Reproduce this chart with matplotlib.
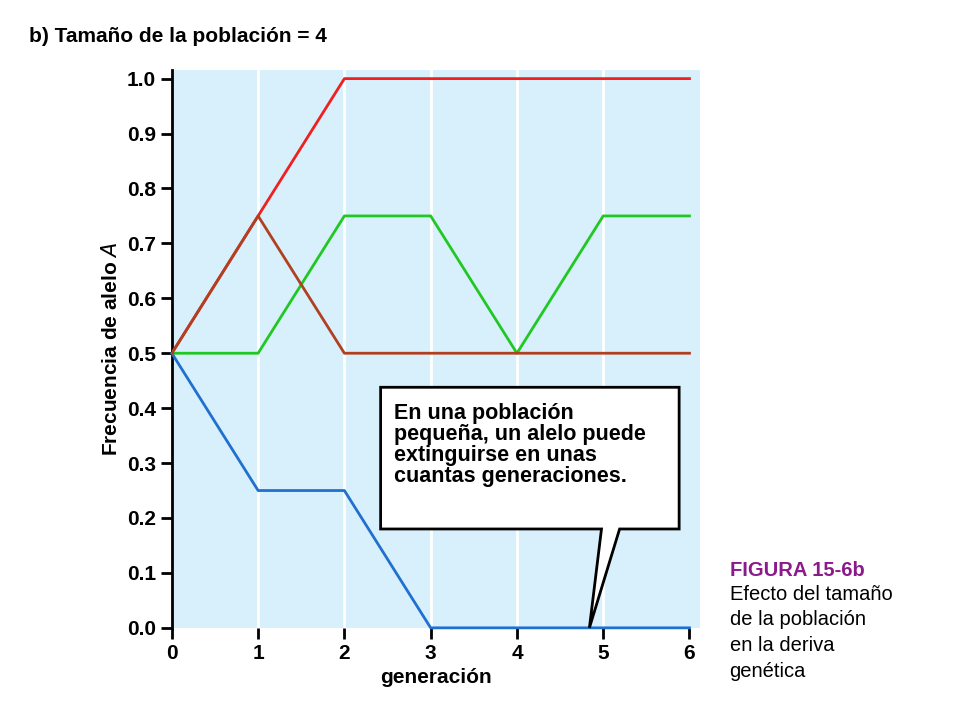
import matplotlib
matplotlib.use("Agg")
import matplotlib.pyplot as plt
from matplotlib.patches import Polygon

gen = [0, 1, 2, 3, 4, 5, 6]
red = [0.5, 0.75, 1.0, 1.0, 1.0, 1.0, 1.0]
brown = [0.5, 0.75, 0.5, 0.5, 0.5, 0.5, 0.5]
green = [0.5, 0.5, 0.75, 0.75, 0.5, 0.75, 0.75]
blue = [0.5, 0.25, 0.25, 0.0, 0.0, 0.0, 0.0]
yticks = [0.0, 0.1, 0.2, 0.3, 0.4, 0.5, 0.6, 0.7, 0.8, 0.9, 1.0]

plt.rcParams['font.family'] = ['Liberation Sans', 'DejaVu Sans']
fig = plt.figure(figsize=(9.6, 7.2), dpi=100)
ax = fig.add_axes([0.179, 0.128, 0.55, 0.775])
ax.set_facecolor('#d8effc')
ax.set_xlim(0, 6.12)
ax.set_ylim(0, 1.016)
for x in gen[1:-1]:
    ax.axvline(x, color='white', lw=2, zorder=1)
ax.plot(gen, green, color='#22c822', lw=2, zorder=3)
ax.plot(gen, brown, color='#b04020', lw=2, zorder=4)
ax.plot(gen, red, color='#ee2020', lw=2, zorder=3)
ax.plot(gen, blue, color='#2070d0', lw=2, zorder=3, clip_on=False)
for s in ['top', 'right', 'bottom']:
    ax.spines[s].set_visible(False)
ax.spines['left'].set_linewidth(2)
ax.set_xticks(gen)
ax.set_yticks(yticks)
ax.set_yticklabels([f"{v:.1f}" for v in yticks])
ax.tick_params(axis='both', direction='out', length=8, width=2, labelsize=15)
for lab in ax.get_xticklabels() + ax.get_yticklabels():
    lab.set_fontweight('bold')
ax.set_xlabel('generación', fontsize=15, fontweight='bold')
ax.set_ylabel('Frecuencia de alelo $\\mathbf{\\it{A}}$', fontsize=15, fontweight='bold')

# callout
poly = Polygon([(2.42, 0.438), (5.88, 0.438), (5.88, 0.18), (5.19, 0.18), (4.84, 0.0),
                (4.98, 0.18), (2.42, 0.18)], closed=True, facecolor='white',
               edgecolor='black', lw=2, zorder=5, clip_on=False)
ax.add_patch(poly)
ax.text(2.57, 0.41, "En una población\npequeña, un alelo puede\nextinguirse en unas\ncuantas generaciones.",
        fontsize=15.5, fontweight='bold', va='top', ha='left', zorder=6, linespacing=1.0)

fig.text(0.03, 0.95, "b) Tamaño de la población = 4", fontsize=15, fontweight='bold', va='center')
fig.text(0.76, 0.208, "FIGURA 15-6b", color='#8b1a8b', fontsize=14.5, fontweight='bold', va='center')
fig.text(0.76, 0.188, "Efecto del tamaño\nde la población\nen la deriva\ngenética", fontsize=14.5,
         va='top', linespacing=1.45)
fig.savefig('out.png', dpi=100)
